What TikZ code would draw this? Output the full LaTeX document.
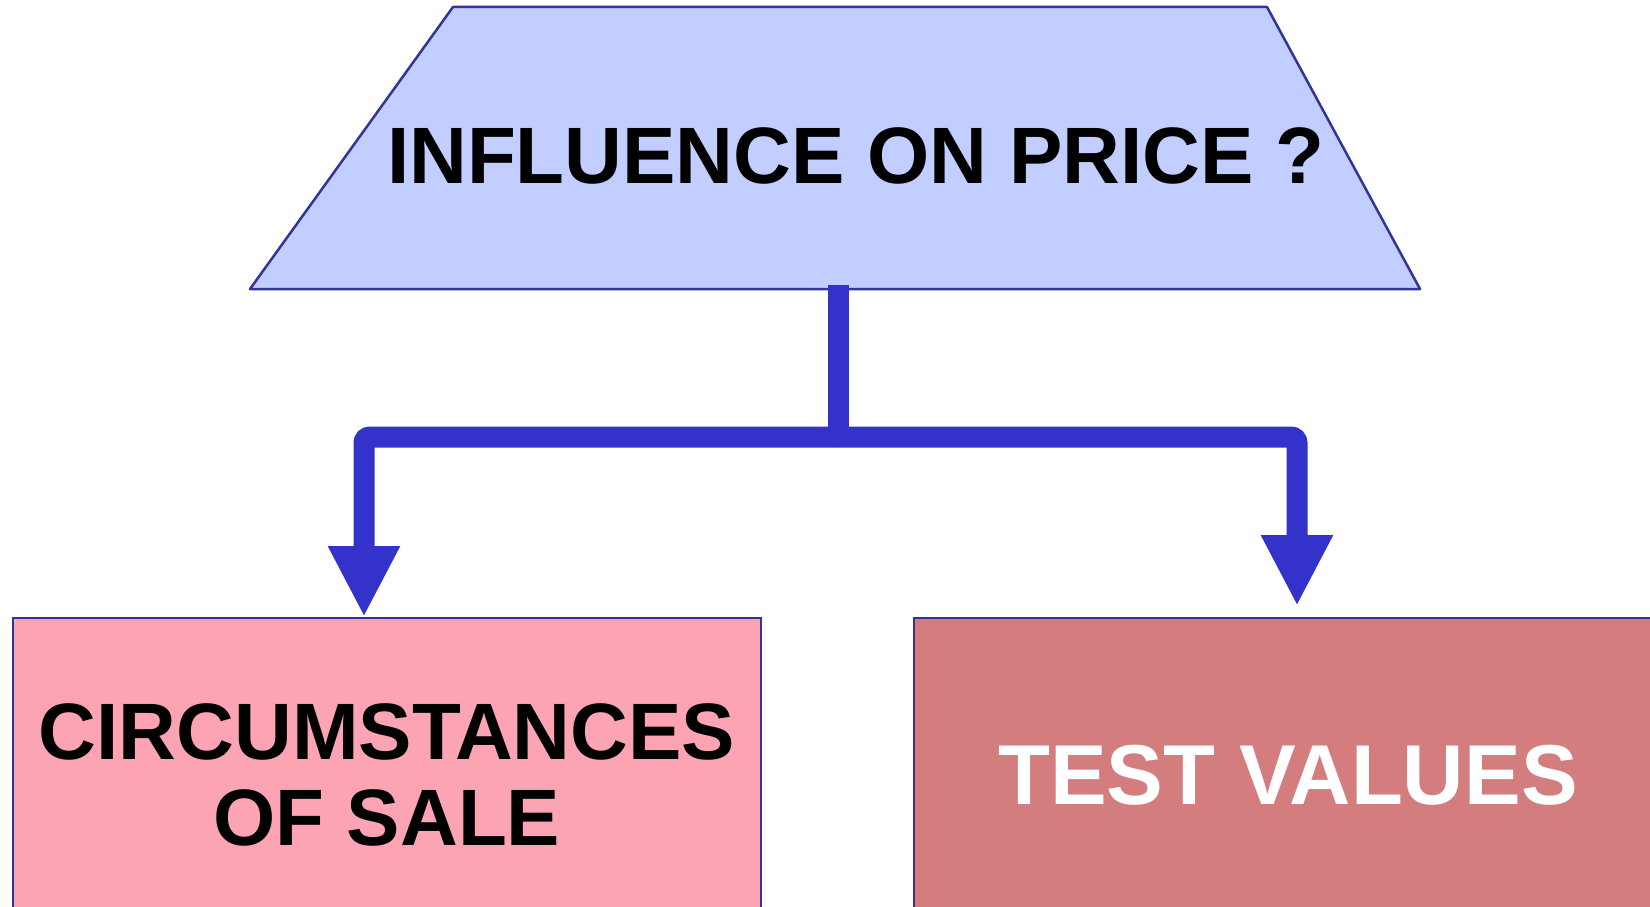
\documentclass[tikz,border=0pt]{standalone}
\usepackage{fontspec}
\setmainfont{Liberation Sans}
\usetikzlibrary{arrows.meta}

\definecolor{edgeblue}{RGB}{51,51,153}
\definecolor{flowblue}{RGB}{51,51,204}
\definecolor{pricefill}{RGB}{194,206,255}
\definecolor{salefill}{RGB}{252,164,179}
\definecolor{testfill}{RGB}{211,125,127}

\begin{document}
\begin{tikzpicture}[x=1pt,y=-1pt,
	topbox/.style={draw=edgeblue, line width=2.5pt, fill=pricefill, line join=round},
	title/.style={text height=70pt, text depth=0pt, font=\fontsize{80}{86}\selectfont\bfseries},
	square/.style={rectangle, minimum width=748pt, minimum height=314pt, draw=edgeblue, line width=2pt,
		align=center, font=\fontsize{80}{86}\selectfont\bfseries},
	flow/.style={draw=flowblue, line width=21pt, rounded corners=6pt, -{Triangle[width=67pt,length=71pt]}},
	stem/.style={draw=flowblue, line width=21pt}]
	\useasboundingbox (0,0) rectangle (1650,907);

	%Shape
	\draw[topbox] (250,289) -- (453,7) -- (1267,7) -- (1420,289) -- cycle;

	%Nodes
	\node[title]	(influence)	at (856,148)	{INFLUENCE ON PRICE ?};
	\node[square, fill=salefill]	(circumstances)	at (387,775)	{CIRCUMSTANCES\\OF SALE};
	\node[square, fill=testfill, text=white, font=\fontsize{85}{90}\selectfont\bfseries]	(test)	at (1288,775)	{TEST VALUES};
	\coordinate	(base)	at (838,285);
	\coordinate	(split)	at (838,437);

	%Lines
	\draw[stem] (base) -- (split);
	\draw[flow] (split) -| ([xshift=-23pt]circumstances.north);
	\draw[flow, shorten >=11pt] (split) -| ([xshift=9pt]test.north);
\end{tikzpicture}
\end{document}
